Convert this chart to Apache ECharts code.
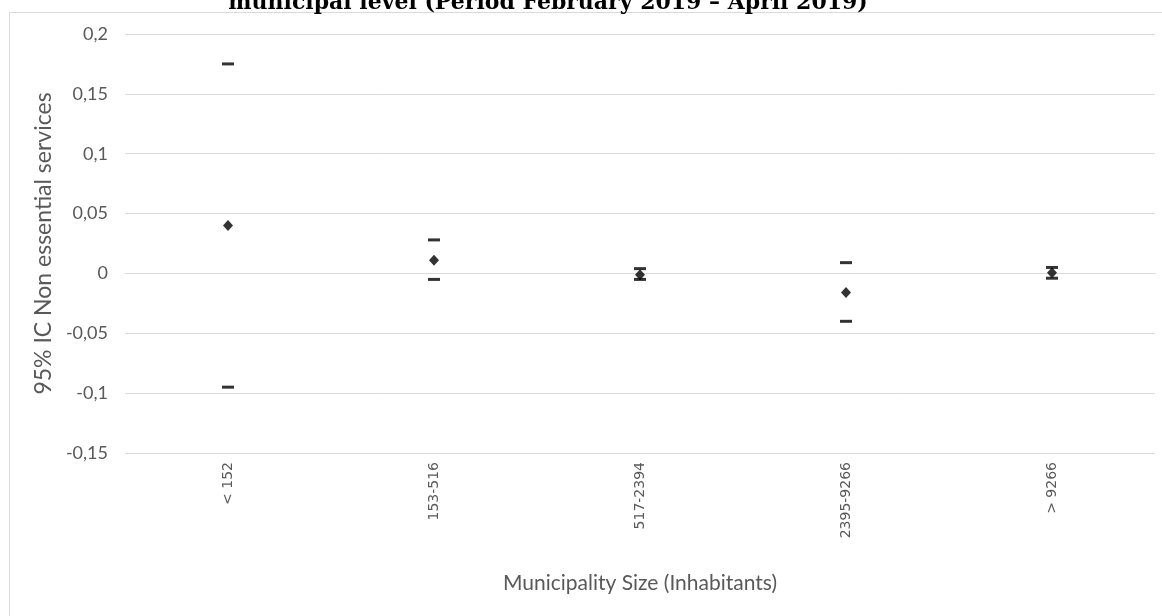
<!DOCTYPE html>
<html>
<head>
<meta charset="utf-8">
<script src="https://cdn.jsdelivr.net/npm/echarts@6/dist/echarts.min.js"></script>
<style>
  html, body { margin: 0; padding: 0; background: #fff; }
  #chart { width: 1162px; height: 616px; }
</style>
</head>
<body>
<div id="chart"></div>
<script>
// Municipality size classes (inhabitants)
const categories = ['< 152', '153-516', '517-2394', '2395-9266', '> 9266'];
// 95% confidence interval bounds and point estimate, non essential services
const upperBound = [0.175, 0.028, 0.004, 0.009, 0.005];
const estimate   = [0.040, 0.011, -0.001, -0.016, 0.0005];
const lowerBound = [-0.095, -0.005, -0.005, -0.040, -0.004];

const titleText = 'municipal level (Period February 2019 \u2013 April 2019)';
const yAxisTitle = '95% IC Non essential services';
const xAxisTitle = 'Municipality Size (Inhabitants)';

const labelColor = '#595959';
const font = 'Lato, "Open Sans", sans-serif';
const catFont = '"DejaVu Sans", sans-serif';

const chart = echarts.init(document.getElementById('chart'));

function fmt(v) {
  const r = Math.round(v * 100) / 100;
  return String(r).replace('.', ',');
}

chart.setOption({
  animation: false,
  backgroundColor: '#ffffff',
  graphic: [
    {
      type: 'rect',
      shape: { x: 9.5, y: 12.5, width: 1200, height: 700 },
      style: { fill: 'none', stroke: '#d9d9d9', lineWidth: 1 },
      z: 0
    },
    {
      type: 'text',
      x: 548,
      y: 14,
      z: 10,
      style: {
        text: titleText,
        font: 'bold 22px "DejaVu Serif", "Liberation Serif", serif',
        fill: '#000',
        align: 'center',
        verticalAlign: 'bottom'
      }
    }
  ],
  grid: { left: 125, right: 7, top: 34, bottom: 163, containLabel: false },
  xAxis: {
    type: 'category',
    data: categories,
    boundaryGap: true,
    axisLine: { show: true, lineStyle: { color: '#d9d9d9' } },
    axisTick: { show: false },
    axisLabel: {
      rotate: 90,
      margin: 9,
      color: labelColor,
      fontSize: 14,
      fontFamily: catFont
    },
    name: xAxisTitle,
    nameLocation: 'middle',
    nameGap: 120,
    nameTextStyle: { color: labelColor, fontSize: 21, fontFamily: font }
  },
  yAxis: {
    type: 'value',
    min: -0.15,
    max: 0.2,
    interval: 0.05,
    axisLine: { show: false },
    axisTick: { show: false },
    splitLine: { lineStyle: { color: '#d9d9d9' } },
    axisLabel: {
      margin: 17,
      color: labelColor,
      fontSize: 18,
      fontFamily: font,
      formatter: fmt
    },
    name: yAxisTitle,
    nameLocation: 'middle',
    nameGap: 67,
    nameTextStyle: { color: labelColor, fontSize: 23, fontFamily: font }
  },
  series: [
    {
      name: 'Upper',
      type: 'scatter',
      data: upperBound,
      symbol: 'rect',
      symbolSize: [12, 3],
      itemStyle: { color: '#000' },
      z: 3
    },
    {
      name: 'Estimate',
      type: 'scatter',
      data: estimate,
      symbol: 'diamond',
      symbolSize: [10, 11],
      itemStyle: { color: '#000' },
      z: 4
    },
    {
      name: 'Lower',
      type: 'scatter',
      data: lowerBound,
      symbol: 'rect',
      symbolSize: [12, 3],
      itemStyle: { color: '#000' },
      z: 3
    }
  ]
});
</script>
</body>
</html>
